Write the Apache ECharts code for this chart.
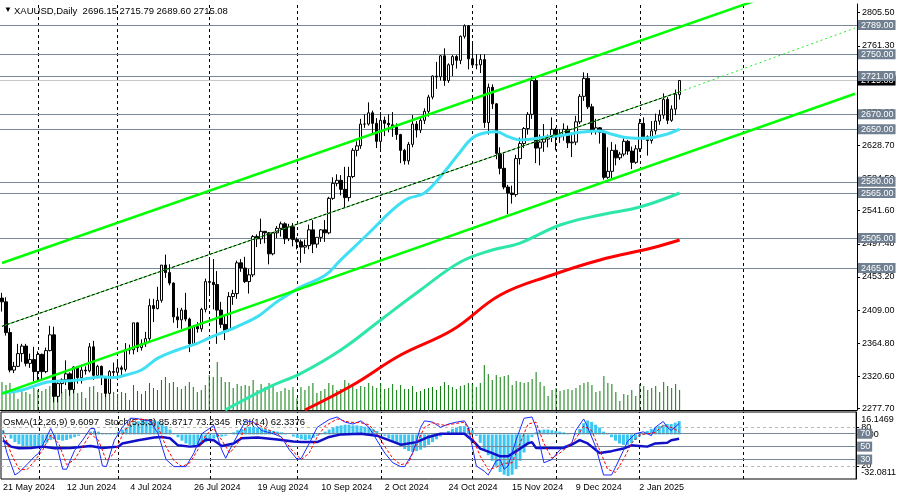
<!DOCTYPE html>
<html><head><meta charset="utf-8">
<script src="https://cdn.jsdelivr.net/npm/echarts@6/dist/echarts.min.js"></script>
<style>html,body{margin:0;padding:0;background:#fff;overflow:hidden}#c{width:899px;height:497px}</style>
</head><body><div id="c"></div>
<script>
// ---------- categories (trading days, weekdays except 25 Dec / 1 Jan) ----------
const startDate = '2024-05-21';
const holidays = ['2024-12-25', '2025-01-01'];
const barsTotal = 215;          // 171 real bars + empty future space
const monthNames = ['Jan','Feb','Mar','Apr','May','Jun','Jul','Aug','Sep','Oct','Nov','Dec'];
const dates = [];
(function () {
  let d = new Date(startDate + 'T00:00:00Z');
  while (dates.length < barsTotal) {
    const iso = d.toISOString().slice(0, 10);
    const wd = d.getUTCDay();
    if (wd !== 0 && wd !== 6 && holidays.indexOf(iso) < 0) dates.push(d.getUTCDate() + ' ' + monthNames[d.getUTCMonth()] + ' ' + d.getUTCFullYear());
    d = new Date(d.getTime() + 86400000);
  }
})();

// ---------- OHLC ----------
const open = [2425,2420,2379,2329,2334,2351,2361,2338,2343,2327,2350,2327,2355,2376,2294,2311,2316,2324,2303,2333,
2319,2329,2328,2360,2322,2334,2319,2298,2327,2326,2332,2330,2356,2356,2392,2359,2364,2371,2415,2411,
2422,2469,2459,2445,2400,2396,2409,2397,2364,2387,2384,2410,2447,2446,2443,2409,2390,2382,2427,2431,
2472,2465,2447,2456,2507,2504,2514,2512,2484,2512,2518,2524,2504,2520,2503,2500,2493,2495,2516,2497,
2506,2516,2512,2558,2578,2582,2570,2559,2587,2622,2628,2657,2657,2672,2658,2634,2662,2658,2656,2653,
2643,2622,2608,2630,2657,2649,2662,2674,2693,2721,2720,2748,2715,2736,2747,2742,2774,2788,2744,2736,
2736,2743,2659,2706,2684,2618,2598,2573,2565,2563,2611,2631,2651,2670,2715,2625,2633,2637,2639,2650,
2640,2643,2650,2632,2633,2660,2694,2718,2680,2648,2652,2646,2586,2594,2622,2612,2617,2634,2621,2606,
2624,2658,2640,2635,2648,2661,2669,2690,2662,2677,2696.15];
const high = [2432,2426,2385,2340,2364,2364,2364,2351,2360,2354,2351,2359,2388,2387,2315,2318,2342,2326,2334,2334,
2336,2334,2365,2368,2336,2335,2320,2329,2339,2340,2335,2365,2363,2392,2393,2370,2380,2424,2424,2440,
2469,2483,2470,2446,2412,2412,2432,2399,2389,2393,2412,2451,2477,2477,2461,2420,2402,2433,2436,2475,
2477,2480,2464,2509,2510,2531,2514,2513,2513,2521,2527,2526,2524,2525,2506,2503,2503,2523,2529,2506,
2517,2529,2560,2586,2590,2589,2600,2600,2625,2634,2664,2670,2686,2675,2665,2673,2667,2670,2673,2658,
2644,2624,2633,2669,2661,2666,2678,2696,2722,2740,2749,2758,2738,2749,2749,2775,2790,2789,2764,2750,
2750,2750,2711,2710,2685,2626,2618,2576,2575,2616,2639,2653,2673,2721,2721,2643,2657,2643,2666,2652,
2650,2658,2655,2646,2668,2697,2726,2725,2684,2664,2653,2649,2626,2633,2630,2620,2638,2636,2627,2629,
2664,2666,2642,2661,2671,2676,2698,2693,2682,2703,2715.79];
const low = [2407,2375,2326,2325,2333,2340,2334,2332,2314,2314,2316,2325,2354,2286,2286,2298,2309,2295,2298,2311,
2311,2323,2326,2316,2318,2309,2293,2297,2319,2318,2319,2327,2350,2350,2353,2355,2360,2367,2393,2410,
2419,2452,2442,2392,2385,2384,2394,2353,2364,2379,2380,2406,2430,2410,2364,2385,2369,2380,2416,2424,
2460,2445,2431,2453,2493,2497,2498,2470,2482,2505,2507,2497,2501,2494,2490,2472,2484,2490,2485,2492,
2500,2500,2510,2556,2574,2562,2546,2554,2585,2614,2624,2652,2655,2643,2625,2624,2641,2646,2640,2636,
2605,2603,2603,2626,2639,2645,2657,2667,2690,2704,2715,2708,2712,2721,2731,2737,2771,2730,2735,2730,
2725,2652,2643,2677,2610,2590,2570,2537,2551,2560,2603,2625,2643,2664,2605,2602,2620,2626,2633,2622,
2632,2635,2625,2613,2629,2657,2688,2677,2643,2643,2631,2583,2584,2583,2602,2609,2614,2616,2597,2604,
2620,2636,2615,2631,2643,2656,2664,2657,2660,2669,2689.60];
const close = [2420,2379,2329,2334,2351,2361,2338,2343,2327,2350,2327,2355,2376,2294,2311,2316,2324,2303,2333,2319,
2329,2328,2360,2322,2334,2319,2298,2327,2326,2332,2330,2356,2356,2392,2359,2364,2371,2415,2411,2422,
2469,2459,2445,2400,2396,2409,2397,2364,2387,2384,2410,2447,2446,2443,2409,2390,2382,2427,2431,2472,
2465,2447,2456,2507,2504,2514,2512,2484,2512,2518,2524,2504,2520,2503,2500,2493,2495,2516,2497,2506,
2516,2512,2558,2578,2582,2570,2559,2587,2622,2628,2657,2657,2672,2658,2634,2662,2658,2656,2653,2643,
2622,2608,2630,2657,2649,2662,2674,2693,2721,2720,2748,2715,2736,2747,2742,2774,2788,2744,2736,2736,
2743,2659,2706,2684,2618,2598,2573,2565,2563,2611,2631,2651,2670,2715,2625,2633,2637,2639,2650,2640,
2643,2650,2632,2633,2660,2694,2718,2680,2648,2652,2646,2586,2594,2622,2612,2617,2634,2621,2606,2624,
2658,2640,2635,2648,2661,2669,2690,2662,2677,2697,2715.08];
// tick volume
const volume = [70000,62500,67500,52500,27500,47500,45000,40000,55000,50000,47500,52500,60000,82500,55000,45000,52500,50000,55000,42500,
45000,30000,57500,60000,45000,42500,47500,42500,45000,40000,45000,42500,25000,62500,47500,40000,47500,67500,55000,50000,
75000,82500,67500,70000,57500,52500,60000,70000,57500,45000,50000,62500,87500,82500,120000,82500,70000,70000,55000,65000,
60000,62500,60000,75000,50000,65000,57500,67500,62500,45000,47500,55000,50000,57500,30000,57500,50000,60000,67500,42500,
47500,52500,67500,62500,50000,52500,75000,67500,62500,52500,60000,57500,67500,60000,55000,67500,52500,55000,65000,50000,
62500,52500,52500,60000,45000,47500,52500,55000,57500,50000,60000,70000,62500,57500,52500,60000,62500,67500,65000,57500,
67500,112500,90000,75000,87500,82500,85000,87500,62500,72500,70000,67500,70000,77500,95000,70000,60000,35000,50000,55000,
47500,50000,52500,50000,55000,62500,67500,70000,62500,45000,47500,85000,67500,65000,45000,22500,40000,37500,50000,35000,
65000,60000,50000,55000,60000,45000,70000,60000,55000,65000,50000];

// ---------- moving averages ([bar, price]) ----------
const maFast = [[0,2298.4],[5,2302.4],[12,2313.5],[17,2314.8],[22,2318],[25,2320.2],[28,2319],[31,2322.4],[35,2329.1],[39,2344.7],[44,2355.8],[49,2364.7],[52,2371.8],[55,2378.4],[59,2387],[64,2400],[67,2412],[69,2420],[75,2440],[81,2455],[85,2476],[92,2511.4],[97,2538],[100,2551.4],[102,2558],[106,2565.1],[111,2593.5],[115,2620.2],[118,2638.4],[121,2645.1],[124,2646.8],[127,2640.2],[130,2635.8],[133,2637.1],[137,2640.2],[141,2642.4],[145,2646],[150,2647.8],[153,2643.4],[157,2638.8],[161,2638],[166,2642.4],[170,2650.4]];
const maMid = [[56,2275.8],[67,2306.4],[75,2324.7],[85,2355.8],[95,2395.8],[105,2435.8],[115,2473.1],[123,2489.1],[130,2498.4],[140,2522.4],[150,2535.8],[160,2546.4],[170,2565.1]];
const maSlow = [[76,2275.8],[88,2309.1],[100,2349.1],[113,2382.4],[125,2429.1],[138,2455.8],[150,2475.8],[163,2491.8],[170,2502.4]];

// ---------- channel (trend lines) ----------
const chanUpper = [[0,2471.8],[214,2867.8]];
const chanLower = [[0,2297.6],[214,2697.5]];
const chanMid = [[0,2387.4],[170,2700]];
const chanMidRay = [[170,2700],[214,2785]];

// ---------- levels & ticks ----------
const priceLevels = [2789, 2750, 2721, 2670, 2650, 2580, 2565, 2505, 2465];
const bidPrice = 2715.08;
const priceTicks = [2805.50,2761.30,2717.10,2672.90,2628.70,2584.50,2541.60,2497.40,2453.20,2409.00,2364.80,2320.60,2277.70];
const monthStartBars = [9, 29, 52, 74, 95, 118, 139, 160, 186];
const oscLevels = [70, 50, 30];
const stochLevels = [80, 20];
const osmaScale = [16.1469, 0, -32.0811];

// ---------- oscillators ----------
const osma = [3,0.5,-3,-5.5,-7,-8.5,-9.5,-10,-10,-9.5,-8,-6,-4,-3.5,-4,-4.5,-4,-3,-2,-1,
0,1,2,2.5,2,1,0.5,0.5,1,2,3.5,5,7,8.5,9.5,10.5,11,11,10.5,9.5,
8,6,3.5,1,-2,-4.5,-6.5,-7.5,-8,-8,-7,-5.5,-4,-3,-2,-1.5,-1,0,1.5,3,
4,5,5.5,5.5,5,4.5,4,3,2.5,2,1.5,1,0,-1.5,-2.5,-3.5,-4,-3.5,-2.5,-1,
0.5,2,3.5,5,6,6.5,7,7,6.5,6.5,6,5.5,5,4,2.5,1,-1,-3,-5,-7,
-9,-10.5,-12,-12.5,-12,-11,-9.5,-7.5,-5.5,-3.5,-1.5,0.5,2.5,4,5,6,6,5,3,-1,
-6,-11,-15,-19,-23,-27,-29,-30,-29,-25,-19,-13,-7,-2,1.5,3,3.5,3.5,3,2.5,
2,1.5,0.5,0,0.5,4,8,10,9,7,5,2,0.5,-2,-4.5,-6.5,-7.5,-7.5,-6,-4,
-1.5,1,2.5,4,5,6,7,7.5,7.5,8.5,9.6097];
const rsi = [[0,60],[2,50],[4,47.4],[7,47.9],[10,50],[13,47.4],[17,48],[22,51],[25,48],[29,50],[30,55],[34,60],[38,64],[40,65],[42,63],[44,52],[47,50],[49,51],[51,61],[53,60],[55,51],[58,55],[60,63],[64,64],[69,61],[73,58],[75,57],[79,57],[82,65],[85,69],[90,70],[94,67],[97,60],[100,53],[104,57],[107,65],[110,70],[113,70],[116,70],[118,60],[120,47],[123,40],[125,35],[127,35],[129,43],[132,55],[133,57],[134,48],[137,48],[141,48],[143,53],[145,60],[147,55],[148,50],[150,40],[153,43],[156,47],[158,52],[160,51],[162,50],[164,55],[167,56],[168,60],[170,62.3376]];
const stochMain = [[0,65],[1,40],[3,6],[4,10],[6,22],[8,35],[9,40],[11,65],[12,78],[13,65],[15,15],[16,15],[17,30],[18,44],[20,60],[22,78],[23,78],[25,20],[26,19],[28,60],[30,80],[32,94],[33,94],[35,92],[37,90],[39,70],[41,30],[43,19],[46,19],[48,40],[50,70],[53,83],[55,45],[56,32],[57,45],[59,68],[61,90],[63,88],[65,75],[68,70],[70,65],[72,45],[74,30],[75,32],[77,55],[79,80],[82,92],[84,96],[86,88],[88,85],[90,90],[92,80],[94,60],[96,40],[98,25],[100,19],[101,19],[103,40],[105,80],[106,90],[108,88],[110,80],[112,85],[114,88],[116,90],[117,80],[119,20],[121,12],[122,6],[124,28],[125,30],[126,15],[127,20],[129,60],[131,94],[133,96],[134,80],[136,25],[138,30],[140,45],[141,50],[143,55],[144,75],[146,93],[147,80],[149,50],[151,6],[153,6],[154,18],[156,44],[157,58],[159,70],[161,73],[163,67],[164,80],[166,89],[167,80],[168,75],[170,85.8717]];
const stochSignal = [[0,75],[2,40],[4,15],[6,14],[8,28],[10,45],[12,68],[14,55],[16,22],[18,30],[20,50],[22,70],[24,60],[26,28],[28,40],[30,68],[32,88],[34,93],[37,91],[39,80],[41,50],[43,28],[45,19],[47,25],[49,45],[51,68],[53,78],[55,60],[57,40],[59,55],[61,80],[63,88],[66,78],[69,70],[71,58],[73,42],[75,30],[77,40],[79,65],[81,82],[84,93],[87,88],[90,87],[92,84],[94,70],[96,50],[98,32],[100,22],[102,25],[104,55],[106,80],[108,87],[111,83],[114,86],[116,88],[118,65],[120,35],[122,14],[124,18],[126,24],[128,25],[130,55],[132,85],[134,88],[136,55],[138,32],[140,40],[142,50],[144,62],[146,82],[148,75],[150,45],[152,15],[154,10],[156,30],[158,55],[160,68],[162,70],[164,72],[166,83],[168,80],[170,73.2345]];

// ---------- build ----------
const FONT = 'Liberation Sans';
const nReal = close.length;
const last = nReal - 1;
const candles = close.map((c, i) => [open[i], c, low[i], high[i]]);
const lastVal = a => a[a.length - 1][1];

const headerText = 'XAUUSD,Daily  ' + open[last].toFixed(2) + ' ' + high[last].toFixed(2) + ' ' + low[last].toFixed(2) + ' ' + close[last].toFixed(2);
const panelText = 'OsMA(12,26,9) ' + osma[last].toFixed(4) + '  Stoch(5,3,3) ' + lastVal(stochMain).toFixed(4) + ' ' + lastVal(stochSignal).toFixed(4) + '  RSI(14) ' + lastVal(rsi).toFixed(4);

const boxLabel = (bg, fmt) => ({
  show: true, position: 'end', distance: 1, formatter: fmt,
  backgroundColor: bg, color: '#fff', padding: [1, 2, 0, 3],
  fontSize: 9, fontFamily: FONT, lineHeight: 9
});
const axisFont = { fontSize: 9, color: '#000', fontFamily: FONT };

const chart = echarts.init(document.getElementById('c'));
chart.setOption({
  animation: false,
  backgroundColor: '#ffffff',
  textStyle: { fontFamily: FONT },
  title: [
    { text: '▼', left: 4, top: 6, padding: 0, textStyle: { fontSize: 8, color: '#000', fontWeight: 'normal' } },
    { text: headerText, left: 14, top: 6, padding: 0, textStyle: { fontSize: 9.5, color: '#000', fontWeight: 'normal', fontFamily: FONT } },
    { text: panelText, left: 3, top: 417, padding: 0, textStyle: { fontSize: 9.5, color: '#000', fontWeight: 'normal', fontFamily: FONT } }
  ],
  grid: [
    { left: -3, top: 4, width: 860, height: 406, show: false },
    { left: -3, top: 412, width: 860, height: 67, show: true, borderColor: '#000', borderWidth: 1, backgroundColor: 'transparent' }
  ],
  xAxis: [
    { type: 'category', gridIndex: 0, data: dates, position: 'top', boundaryGap: true,
      axisLine: { show: true, lineStyle: { color: '#000', width: 1 } }, axisTick: { show: false }, axisLabel: { show: false }, splitLine: { show: false } },
    { type: 'category', gridIndex: 1, data: dates, position: 'bottom', boundaryGap: true,
      axisLine: { show: false }, axisTick: { show: false }, splitLine: { show: false },
      axisLabel: Object.assign({ show: true, interval: (i) => i % 16 === 0 && i < nReal, align: 'left', margin: 4 }, axisFont) }
  ],
  yAxis: [
    { type: 'value', gridIndex: 0, position: 'right', min: 2275.8, max: 2817.1,
      axisLine: { show: true, lineStyle: { color: '#000', width: 1 } },
      axisTick: { show: true, length: 3, customValues: priceTicks, lineStyle: { color: '#000' } },
      axisLabel: Object.assign({ show: true, customValues: priceTicks, formatter: v => v.toFixed(2), margin: 5 }, axisFont),
      splitLine: { show: false } },
    { type: 'value', gridIndex: 0, min: 0, max: 1015000, show: false, splitLine: { show: false } },
    { type: 'value', gridIndex: 1, position: 'right', min: -0.2, max: 103.7,
      axisLine: { show: true, lineStyle: { color: '#000', width: 1 } },
      axisTick: { show: true, length: 3, customValues: stochLevels, lineStyle: { color: '#000' } },
      axisLabel: Object.assign({ show: true, customValues: stochLevels, margin: 5 }, axisFont),
      splitLine: { show: false } },
    { type: 'value', gridIndex: 1, position: 'right', min: osmaScale[2], max: osmaScale[0],
      axisLine: { show: false },
      axisTick: { show: true, length: 3, customValues: [0], lineStyle: { color: '#000' } },
      axisLabel: Object.assign({ show: true, customValues: osmaScale, margin: 5,
        formatter: v => v === osmaScale[0] ? '{t|' + v.toFixed(4) + '}' : (v === osmaScale[2] ? '{b|' + v.toFixed(4) + '}' : '0.00'),
        rich: { t: { padding: [15, 0, 0, 0], fontSize: 9, fontFamily: FONT, color: '#000' },
                b: { padding: [0, 0, 12, 0], fontSize: 9, fontFamily: FONT, color: '#000' } } }, axisFont),
      splitLine: { show: false } }
  ],
  series: [
    { name: 'volume', type: 'bar', xAxisIndex: 0, yAxisIndex: 1, data: volume, barWidth: 1, itemStyle: { color: '#0a7d0a' }, z: 1, silent: true },
    { name: 'grid-main', type: 'line', xAxisIndex: 0, yAxisIndex: 0, data: [], silent: true,
      markLine: { silent: true, symbol: ['none', 'none'], z: 1, label: { show: false },
        lineStyle: { color: '#000', type: [3, 3], width: 1 }, data: monthStartBars.map(b => ({ xAxis: b })) } },
    { name: 'bid', type: 'line', xAxisIndex: 0, yAxisIndex: 0, data: [], silent: true,
      markLine: { silent: true, symbol: ['none', 'none'], z: 4, lineStyle: { color: '#c8c8c8', type: 'solid', width: 1 },
        label: boxLabel('#000', p => p.value.toFixed(2)), data: [{ yAxis: bidPrice }] } },
    { name: 'levels', type: 'line', xAxisIndex: 0, yAxisIndex: 0, data: [], silent: true,
      markLine: { silent: true, symbol: ['none', 'none'], z: 5, lineStyle: { color: '#778899', type: 'solid', width: 1 },
        label: boxLabel('#708090', p => p.value.toFixed(2)), data: priceLevels.map(v => ({ yAxis: v })) } },
    { name: 'XAUUSD', type: 'candlestick', xAxisIndex: 0, yAxisIndex: 0, data: candles, barWidth: 3, z: 6,
      itemStyle: { color: '#ffffff', color0: '#000000', borderColor: '#000000', borderColor0: '#000000', borderWidth: 1 } },
    { name: 'maSlow', type: 'line', xAxisIndex: 0, yAxisIndex: 0, data: maSlow, smooth: 0.4, showSymbol: false, z: 7, lineStyle: { color: '#ff0000', width: 3 } },
    { name: 'maMid', type: 'line', xAxisIndex: 0, yAxisIndex: 0, data: maMid, smooth: 0.4, showSymbol: false, z: 7, lineStyle: { color: '#2de6aa', width: 3 } },
    { name: 'maFast', type: 'line', xAxisIndex: 0, yAxisIndex: 0, data: maFast, smooth: 0.4, showSymbol: false, z: 7, lineStyle: { color: '#40e0f4', width: 3 } },
    { name: 'chanUpper', type: 'line', xAxisIndex: 0, yAxisIndex: 0, data: chanUpper, showSymbol: false, z: 8, lineStyle: { color: '#00ff00', width: 2.5 } },
    { name: 'chanLower', type: 'line', xAxisIndex: 0, yAxisIndex: 0, data: chanLower, showSymbol: false, z: 8, lineStyle: { color: '#00ff00', width: 2.5 } },
    { name: 'chanMidG', type: 'line', xAxisIndex: 0, yAxisIndex: 0, data: chanMid, showSymbol: false, z: 8, lineStyle: { color: '#22dd22', width: 1 } },
    { name: 'chanMidK', type: 'line', xAxisIndex: 0, yAxisIndex: 0, data: chanMid, showSymbol: false, z: 8, lineStyle: { color: '#000', width: 1, type: [3, 2] } },
    { name: 'chanMidRay', type: 'line', xAxisIndex: 0, yAxisIndex: 0, data: chanMidRay, showSymbol: false, z: 8, lineStyle: { color: '#22ee22', width: 1, type: [2, 3] } },

    // ---- indicator panel ----
    { name: 'grid-panel', type: 'line', xAxisIndex: 1, yAxisIndex: 2, data: [], silent: true,
      markLine: { silent: true, symbol: ['none', 'none'], z: 1, label: { show: false },
        lineStyle: { color: '#000', type: [3, 3], width: 1 }, data: monthStartBars.map(b => ({ xAxis: b })) } },
    { name: 'stochLevels', type: 'line', xAxisIndex: 1, yAxisIndex: 2, data: [], silent: true,
      markLine: { silent: true, symbol: ['none', 'none'], z: 2, label: { show: false },
        lineStyle: { color: '#b8b8b8', type: [3, 3], width: 1 }, data: stochLevels.map(v => ({ yAxis: v })) } },
    { name: 'OsMA', type: 'bar', xAxisIndex: 1, yAxisIndex: 3, data: osma, barWidth: 3, z: 3, itemStyle: { color: '#3cc6f2' } },
    { name: 'oscLevels', type: 'line', xAxisIndex: 1, yAxisIndex: 2, data: [], silent: true,
      markLine: { silent: true, symbol: ['none', 'none'], z: 5, lineStyle: { color: '#778899', type: 'solid', width: 1 },
        label: boxLabel('#708090', p => String(p.value)), data: oscLevels.map(v => ({ yAxis: v })) } },
    { name: 'RSI', type: 'line', xAxisIndex: 1, yAxisIndex: 2, data: rsi, showSymbol: false, z: 6, lineStyle: { color: '#1010c8', width: 2.5 } },
    { name: 'StochMain', type: 'line', xAxisIndex: 1, yAxisIndex: 2, data: stochMain, showSymbol: false, z: 7, lineStyle: { color: '#1a2cff', width: 1 } },
    { name: 'StochSignal', type: 'line', xAxisIndex: 1, yAxisIndex: 2, data: stochSignal, showSymbol: false, z: 7, lineStyle: { color: '#ff0000', width: 1, type: [3, 2] } }
  ]
});
</script>
</body></html>
